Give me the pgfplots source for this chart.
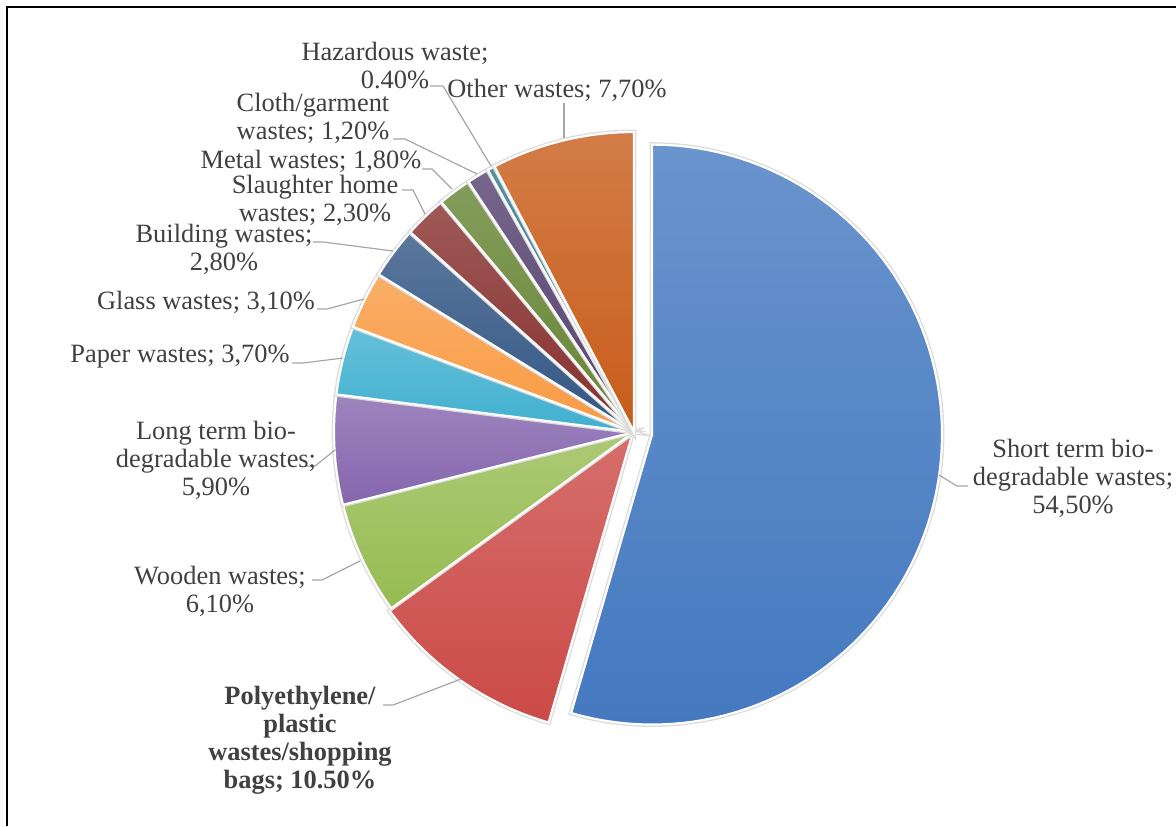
\documentclass[border=0pt]{standalone}
\usepackage{pgfplots}
\usepackage{pgfplotstable}
\pgfplotsset{compat=1.18}
\usepackage{fontspec}
\setmainfont{Liberation Serif}
\definecolor{lbl}{HTML}{404040}
\definecolor{lead}{HTML}{A6A6A6}
\definecolor{cA}{HTML}{4479C0}
\definecolor{cB}{HTML}{CB4A47}
\definecolor{cC}{HTML}{97BC52}
\definecolor{cD}{HTML}{8566AE}
\definecolor{cE}{HTML}{3FB0CF}
\definecolor{cF}{HTML}{F99A42}
\definecolor{cG}{HTML}{325684}
\definecolor{cH}{HTML}{86302E}
\definecolor{cI}{HTML}{668433}
\definecolor{cJ}{HTML}{54406F}
\definecolor{cK}{HTML}{27778D}
\definecolor{cL}{HTML}{C85C1A}
% share of each waste type (%), colour, explosion offset and radius (px)
\pgfplotstableread{
value col off rad
54.5  cA  18.2 290
10.5  cB  3    300
6.1   cC  0    300
5.9   cD  0    300
3.7   cE  0    300
3.1   cF  0    300
2.8   cG  0    300
2.3   cH  0    300
1.8   cI  0    300
1.2   cJ  0    300
0.4   cK  0    300
7.7   cL  0    300
}\piedata
\begin{document}
\begin{tikzpicture}
\begin{axis}[
  width=588pt, height=413pt, scale only axis,
  xmin=0, xmax=1176, ymin=0, ymax=826, y dir=reverse,
  hide axis, clip=false]
\def\cum{0}
\pgfplotsforeachungrouped \i in {0,...,11}{%
  \pgfplotstablegetelem{\i}{value}\of\piedata \let\v\pgfplotsretval
  \pgfplotstablegetelem{\i}{col}\of\piedata \let\slcol\pgfplotsretval
  \pgfplotstablegetelem{\i}{off}\of\piedata \let\off\pgfplotsretval
  \pgfplotstablegetelem{\i}{rad}\of\piedata \let\rr\pgfplotsretval
  \pgfmathsetmacro\sa{90-3.6*\cum}%
  \pgfmathsetmacro\ea{90-3.6*(\cum+\v)}%
  \pgfmathsetmacro\ma{(\sa+\ea)/2}%
  \pgfmathsetmacro\cx{634+\off*cos(\ma)}%
  \pgfmathsetmacro\cy{432-\off*sin(\ma)}%
  \edef\doslice{\noexpand\addplot[
     preaction={draw=black!14, line width=2.4pt},
     draw=white, line width=1.1pt,
     top color=\slcol!80!white, bottom color=\slcol,
     domain=\ea:\sa, samples=90, variable=\noexpand\t]
     ({\cx+\rr*cos(\noexpand\t)},{\cy-\rr*sin(\noexpand\t)}) -- (axis cs:\cx,\cy) -- cycle;}%
  \doslice
  \pgfmathsetmacro\cum{\cum+\v}%
}
% leader lines
\addplot[lead, line width=0.6pt] coordinates {(968,486) (957,486) (939,475)};
\addplot[lead, line width=0.6pt] coordinates {(383,705) (393,705) (461,679)};
\addplot[lead, line width=0.6pt] coordinates {(312,580) (322,580) (360,561)};
\addplot[lead, line width=0.6pt] coordinates {(305,466) (315,466) (335,450)};
\addplot[lead, line width=0.6pt] coordinates {(292,363) (303,363) (343,358)};
\addplot[lead, line width=0.6pt] coordinates {(317,309) (327,309) (364,299)};
\addplot[lead, line width=0.6pt] coordinates {(313,242) (323,242) (393,251)};
\addplot[lead, line width=0.6pt] coordinates {(402,190) (413,190) (425,214)};
\addplot[lead, line width=0.6pt] coordinates {(422,169) (432,169) (452,189)};
\addplot[lead, line width=0.6pt] coordinates {(393,139) (405,139) (477,174)};
\addplot[lead, line width=0.6pt] coordinates {(430,86) (443,86) (491,166)};
\addplot[lead, line width=0.6pt] coordinates {(564,103) (564,138)};
% frame
\draw[black, line width=1pt] (axis cs:7,826) -- (axis cs:7,7) -- (axis cs:1176,7);
% labels
\tikzset{lab/.style={align=center, text=lbl, inner sep=0pt, font=\fontsize{13.2}{14}\selectfont}}
\node[lab] at (axis cs:1073,478) {Short term bio-\\degradable wastes;\\54,50\%};
\node[lab, font=\fontsize{13.2}{14}\selectfont\bfseries] at (axis cs:300,740) {Polyethylene/\\plastic\\wastes/shopping\\bags; 10.50\%};
\node[lab] at (axis cs:220,591) {Wooden wastes;\\6,10\%};
\node[lab] at (axis cs:216,460) {Long term bio-\\degradable wastes;\\5,90\%};
\node[lab] at (axis cs:180,357) {Paper wastes; 3,70\%};
\node[lab] at (axis cs:206,302) {Glass wastes; 3,10\%};
\node[lab] at (axis cs:224,249) {Building wastes;\\2,80\%};
\node[lab] at (axis cs:315,200) {Slaughter home\\wastes; 2,30\%};
\node[lab] at (axis cs:311,161) {Metal wastes; 1,80\%};
\node[lab] at (axis cs:313,118) {Cloth/garment\\wastes; 1,20\%};
\node[lab] at (axis cs:395,66) {Hazardous waste;\\0.40\%};
\node[lab] at (axis cs:557,90) {Other wastes; 7,70\%};
\end{axis}
\pgfresetboundingbox
\useasboundingbox (current axis.south west) rectangle (current axis.north east);
\end{tikzpicture}
\end{document}
